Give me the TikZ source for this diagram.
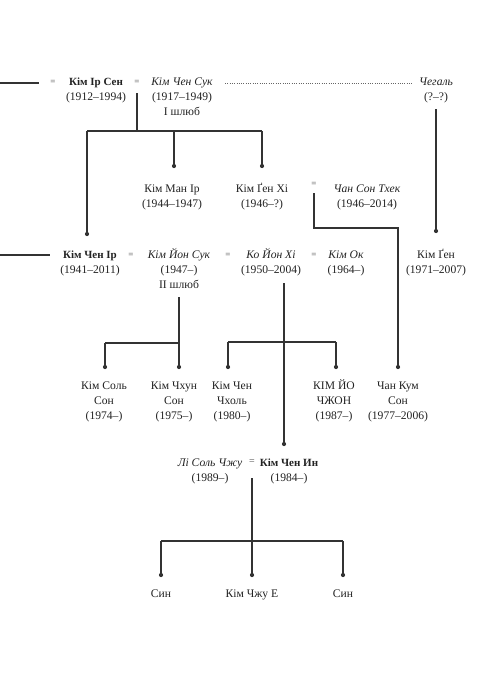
\documentclass[tikz,border=0pt]{standalone}
\usepackage{fontspec}
\setmainfont{Liberation Serif}
\definecolor{txt}{HTML}{222222}
\definecolor{lnc}{HTML}{333333}
\definecolor{eqc}{HTML}{444444}
\definecolor{dotc}{HTML}{666666}
\begin{document}
\begin{tikzpicture}[x=1pt,y=-1pt,
  every node/.style={inner sep=0pt, font=\fontsize{11.6}{15}\selectfont, text=txt},
  person/.style={align=center, anchor=base},
  eqsign/.style={font=\fontsize{9}{9}\selectfont, text=eqc, anchor=center},
  link/.style={draw=lnc, line width=1.1pt},
  faintline/.style={draw=dotc, line width=0.7pt, dash pattern=on 0.7pt off 1.6pt},
  kiddot/.style={fill=lnc}
]
\useasboundingbox[fill=white] (0,0) rectangle (498,686);
% anchor=base is the baseline of the LAST line of a node

% ---------- row 1 ----------
\node[person] (kis) at (96,100) {\textbf{\fontsize{11}{15}\selectfont Кім Ір Сен}\\(1912–1994)};
\node[person] (kjs) at (182,115) {\textit{Кім Чен Сук}\\(1917–1949)\\I шлюб};
\node[person] (chg) at (436,100) {\textit{Чегаль}\\(?–?)};
\node[eqsign] (e1) at (53,82) {=};
\node[eqsign] (e2) at (137,82) {=};
\coordinate (l1a) at (0,83);
\coordinate (l1b) at (39,83);
\coordinate (dt1) at (225,83);
\coordinate (dt2) at (413,83);

% ---------- row 2 ----------
\node[person] (kmi) at (172,207) {Кім Ман Ір\\(1944–1947)};
\node[person] (kgh) at (262,207) {Кім Ґен Хі\\(1946–?)};
\node[eqsign] (e3) at (314,184) {=};
\node[person] (cst) at (367,207) {\textit{Чан Сон Тхек}\\(1946–2014)};

% ---------- row 3 ----------
\node[person] (kji) at (90,273) {\textbf{\fontsize{11}{15}\selectfont Кім Чен Ір}\\(1941–2011)};
\node[eqsign] (e4) at (131,255) {=};
\node[person] (kys) at (179,288) {\textit{Кім Йон Сук}\\(1947–)\\II шлюб};
\node[eqsign] (e5) at (228,255) {=};
\node[person] (kyh) at (271,273) {\textit{Ко Йон Хі}\\(1950–2004)};
\node[eqsign] (e6) at (314,255) {=};
\node[person] (kok) at (346,273) {\textit{Кім Ок}\\(1964–)};
\node[person] (kgn) at (436,273) {Кім Ґен\\(1971–2007)};
\coordinate (l3a) at (0,255);
\coordinate (l3b) at (50,255);

% ---------- row 4 ----------
\node[person] (kss) at (104,419) {Кім Соль\\Сон\\(1974–)};
\node[person] (kcs) at (174,419) {Кім Чхун\\Сон\\(1975–)};
\node[person] (kcc) at (232,419) {Кім Чен\\Чхоль\\(1980–)};
\node[person] (kyj) at (334,419) {КІМ ЙО\\ЧЖОН\\(1987–)};
\node[person] (cks) at (398,419) {Чан Кум\\Сон\\(1977–2006)};

% ---------- row 5 ----------
\node[person] (lsc) at (210,481) {\textit{Лі Соль Чжу}\\(1989–)};
\node[eqsign, font=\fontsize{10}{10}\selectfont] (e7) at (252,462) {=};
\node[person] (kju) at (289,481) {\textbf{\fontsize{11}{15}\selectfont Кім Чен Ин}\\(1984–)};

% ---------- row 6 ----------
\node[person] (s1) at (161,597) {Син};
\node[person] (kje) at (252,597) {Кім Чжу Е};
\node[person] (s2) at (343,597) {Син};

% ---------- connector points ----------
\coordinate (m1) at (137,93);
\coordinate (b1) at (137,131);
\coordinate (b1l) at (87,131);
\coordinate (b1m) at (174,131);
\coordinate (b1r) at (262,131);
\coordinate (d-kji) at (87,234);
\coordinate (d-kmi) at (174,166);
\coordinate (d-kgh) at (262,166);

\coordinate (m2) at (436,109);
\coordinate (d-kgn) at (436,231);

\coordinate (m3) at (314,193);
\coordinate (b3a) at (314,228);
\coordinate (b3b) at (398,228);
\coordinate (d-cks) at (398,367);

\coordinate (m4) at (179,297);
\coordinate (b4) at (179,343);
\coordinate (b4l) at (105,343);
\coordinate (d-kcs) at (179,367);
\coordinate (d-kss) at (105,367);

\coordinate (m5) at (284,283);
\coordinate (b5) at (284,342);
\coordinate (b5l) at (228,342);
\coordinate (b5r) at (336,342);
\coordinate (d-kju) at (284,444);
\coordinate (d-kcc) at (228,367);
\coordinate (d-kyj) at (336,367);

\coordinate (m6) at (252,478);
\coordinate (b6) at (252,541);
\coordinate (b6l) at (161,541);
\coordinate (b6r) at (343,541);
\coordinate (d-kje) at (252,575);
\coordinate (d-s1) at (161,575);
\coordinate (d-s2) at (343,575);

% ---------- connectors ----------
\draw[link] (l1a) -- (l1b);
\draw[link] (l3a) -- (l3b);
\draw[faintline] (dt1) -- (dt2);

\draw[link] (m1) -- (b1);
\draw[link] (b1l) -- (b1r);
\draw[link] (b1l) -- (d-kji);
\draw[link] (b1m) -- (d-kmi);
\draw[link] (b1r) -- (d-kgh);

\draw[link] (m2) -- (d-kgn);

\draw[link] (m3) -- (b3a) -- (b3b) -- (d-cks);

\draw[link] (m4) -- (d-kcs);
\draw[link] (b4l) -- (b4);
\draw[link] (b4l) -- (d-kss);

\draw[link] (m5) -- (d-kju);
\draw[link] (b5l) -- (b5r);
\draw[link] (b5l) -- (d-kcc);
\draw[link] (b5r) -- (d-kyj);

\draw[link] (m6) -- (d-kje);
\draw[link] (b6l) -- (b6r);
\draw[link] (b6l) -- (d-s1);
\draw[link] (b6r) -- (d-s2);

\foreach \d in {d-kji,d-kmi,d-kgh,d-kgn,d-cks,d-kcs,d-kss,d-kju,d-kcc,d-kyj,d-kje,d-s1,d-s2}
  \fill[kiddot] (\d) circle (2.1pt);
\end{tikzpicture}
\end{document}
